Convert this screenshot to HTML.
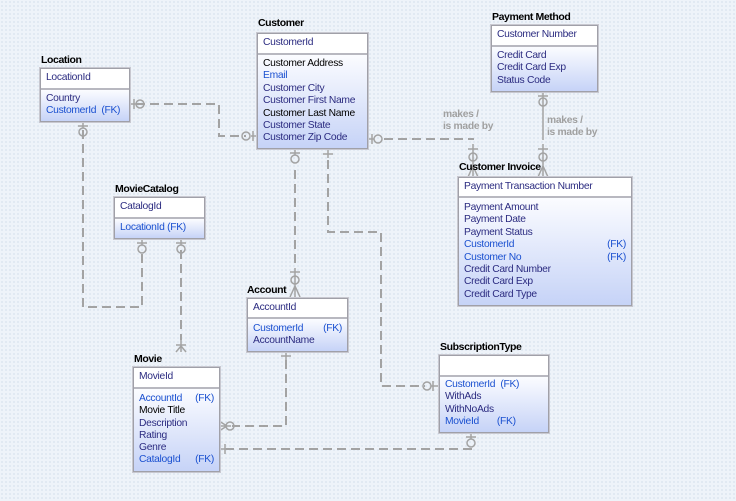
<!DOCTYPE html>
<html><head><style>
body{margin:0;width:736px;height:501px;overflow:hidden;background-color:#eef3f9;
background-image:radial-gradient(#dde6ef 0.8px,transparent 0.9px);background-size:4px 4px;
font-family:"Liberation Sans",sans-serif;font-size:10.3px;position:relative}
.t{position:absolute;font-weight:bold;color:#000;font-size:10.5px;letter-spacing:-0.4px;white-space:nowrap}
.b{position:absolute;border:1px solid #a0a0a8;box-shadow:0 0 0 1px #c8c8d0;background:#fff;white-space:nowrap;letter-spacing:-0.3px}
.h{background:#fff;border-bottom:2px solid #b8b8c0;padding:3px 5px 0;color:#2b2b80;box-sizing:border-box}
.bd{background:linear-gradient(#fbfcff,#c6d3f7);padding:3px 5px 0;box-sizing:border-box;line-height:12.4px}
.n{color:#2b2b80}.k{color:#000}.f{color:#1a50d0}
.r{display:flex;justify-content:space-between}
svg{position:absolute;left:0;top:0}
</style></head><body>
<svg width="736" height="501">
<g fill="none" stroke="#a3a3a3" stroke-width="2" stroke-dasharray="9,5">
<path d="M136 104H219V136H246"/>
<path d="M83 130V307H142V250"/>
<path d="M181 250V340"/>
<path d="M295 170V268"/>
<path d="M328 160V232H381V386H425"/>
<path d="M384 139H474"/>
<path d="M286 360V426H232"/>
<path d="M471 448V449H226"/>
</g>
<g fill="none" stroke="#a3a3a3" stroke-width="1.5">
<path d="M543 98V140"/>
<path d="M129 104h7M134 99v10"/><circle cx="140" cy="104" r="4"/>
<path d="M258 136h-7M253 131v10"/><circle cx="246" cy="136" r="4"/>
<path d="M83 121v7M78 126h10"/><circle cx="83" cy="132" r="4"/>
<path d="M142 238v7M137 243h10"/><circle cx="142" cy="249" r="4"/>
<path d="M181 238v7M176 243h10"/><circle cx="181" cy="249" r="4"/>
<path d="M181 340v12M176 345h10M181 346l-5 6M181 346l5 6"/>
<path d="M295 148v7M290 153h10"/><circle cx="295" cy="159" r="4"/>
<path d="M328 148v10M323 154h10"/>
<path d="M295 268v29M290 272h10M295 286l-5 11M295 286l5 11"/><circle cx="295" cy="280" r="4"/>
<path d="M367 139h7M372 134v10"/><circle cx="378" cy="139" r="4"/>
<path d="M473 144v33M468 149h10M473 166l-5 11M473 166l5 11"/><circle cx="473" cy="157" r="4"/>
<path d="M543 91v7M538 96h10"/><circle cx="543" cy="102" r="4"/>
<path d="M543 144v33M538 149h10M543 166l-5 11M543 166l5 11"/><circle cx="543" cy="157" r="4"/>
<path d="M438 386h-7M433 381v10"/><circle cx="427" cy="386" r="4"/>
<path d="M286 351v10M281 356h10"/>
<path d="M219 426h12M219 421l8 5l-8 5"/><circle cx="230" cy="426" r="4"/>
<path d="M219 449h9M225 444v10"/>
<path d="M471 432v7M466 437h10"/><circle cx="471" cy="443" r="4"/>
</g>
<g fill="#a0a0a0" font-family="Liberation Sans" font-size="10.3" font-weight="bold" letter-spacing="-0.3">
<text x="443" y="117">makes /</text><text x="443" y="129">is made by</text>
<text x="547" y="123">makes /</text><text x="547" y="135">is made by</text>
</g>
</svg>

<div class="t" style="left:258px;top:17px">Customer</div>
<div class="b" style="left:257px;top:33px;width:109px;height:114px">
<div class="h" style="height:21px">CustomerId</div>
<div class="bd" style="height:93px"><div class="k">Customer Address</div><div class="f">Email</div><div class="n">Customer City</div><div class="n">Customer First Name</div><div class="k">Customer Last Name</div><div class="n">Customer State</div><div class="n">Customer Zip Code</div></div></div>

<div class="t" style="left:41px;top:54px">Location</div>
<div class="b" style="left:40px;top:68px;width:88px;height:52px">
<div class="h" style="height:21px">LocationId</div>
<div class="bd" style="height:31px"><div class="n">Country</div><div class="f">CustomerId&nbsp; (FK)</div></div></div>

<div class="t" style="left:115px;top:183px">MovieCatalog</div>
<div class="b" style="left:114px;top:197px;width:89px;height:40px">
<div class="h" style="height:21px">CatalogId</div>
<div class="bd" style="height:19px"><div class="f">LocationId (FK)</div></div></div>

<div class="t" style="left:492px;top:11px">Payment Method</div>
<div class="b" style="left:491px;top:25px;width:105px;height:65px">
<div class="h" style="height:21px">Customer Number</div>
<div class="bd" style="height:44px"><div class="n">Credit Card</div><div class="n">Credit Card Exp</div><div class="n">Status Code</div></div></div>

<div class="t" style="left:459px;top:161px">Customer Invoice</div>
<div class="b" style="left:458px;top:177px;width:172px;height:127px">
<div class="h" style="height:20px">Payment Transaction Number</div>
<div class="bd" style="height:107px;padding-top:4px"><div class="n">Payment Amount</div><div class="n">Payment Date</div><div class="n">Payment Status</div><div class="r f"><span>CustomerId</span><span>(FK)</span></div><div class="r f"><span>Customer No</span><span>(FK)</span></div><div class="n">Credit Card Number</div><div class="n">Credit Card Exp</div><div class="n">Credit Card Type</div></div></div>

<div class="t" style="left:247px;top:284px">Account</div>
<div class="b" style="left:247px;top:298px;width:99px;height:52px">
<div class="h" style="height:20px">AccountId</div>
<div class="bd" style="height:32px;padding-top:4px"><div class="r f"><span>CustomerId</span><span>(FK)</span></div><div class="n">AccountName</div></div></div>

<div class="t" style="left:134px;top:353px">Movie</div>
<div class="b" style="left:133px;top:367px;width:85px;height:103px">
<div class="h" style="height:21px">MovieId</div>
<div class="bd" style="height:82px;padding-top:4px;line-height:12.3px"><div class="r f"><span>AccountId</span><span>(FK)</span></div><div class="k">Movie Title</div><div class="n">Description</div><div class="n">Rating</div><div class="n">Genre</div><div class="r f"><span>CatalogId</span><span>(FK)</span></div></div></div>

<div class="t" style="left:440px;top:341px">SubscriptionType</div>
<div class="b" style="left:439px;top:355px;width:108px;height:76px">
<div class="h" style="height:21px"></div>
<div class="bd" style="height:55px;padding-top:2px"><div class="f">CustomerId&nbsp; (FK)</div><div class="n">WithAds</div><div class="n">WithNoAds</div><div class="f">MovieId&nbsp;&nbsp;&nbsp;&nbsp;&nbsp;&nbsp; (FK)</div></div></div>
</body></html>
